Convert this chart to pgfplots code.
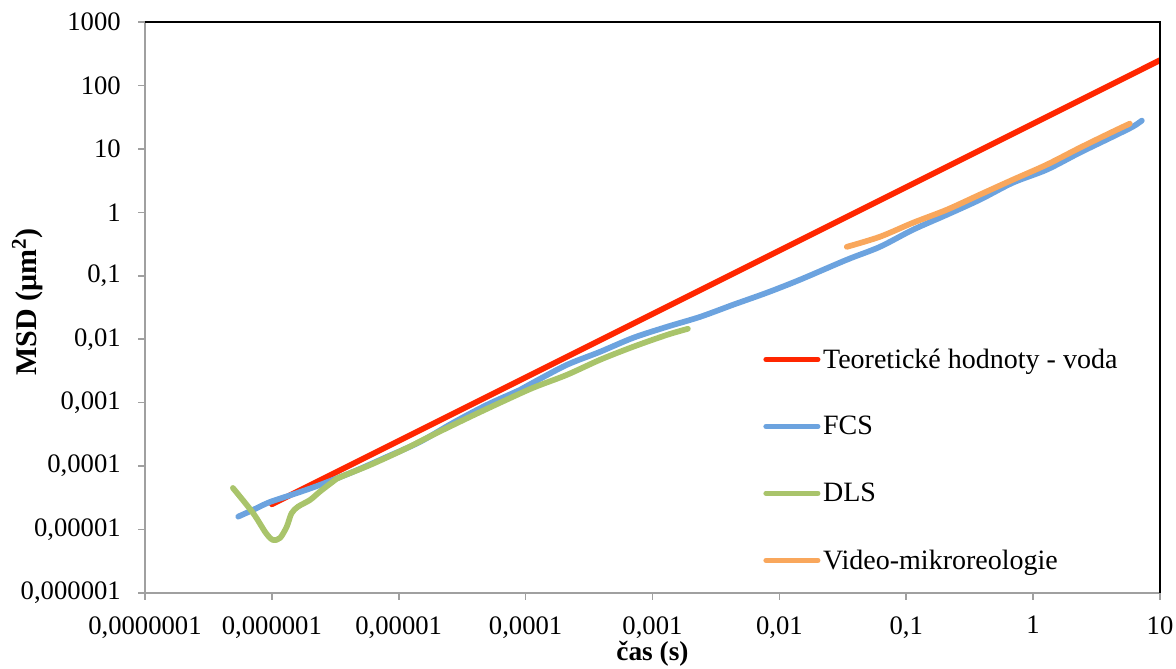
\documentclass[border=0pt]{standalone}
\usepackage{fontspec}
\setmainfont{Liberation Serif}
\usepackage{pgfplots}
\pgfplotsset{compat=1.18}
\definecolor{cred}{RGB}{255,38,0}
\definecolor{cblue}{RGB}{108,163,223}
\definecolor{cgreen}{RGB}{169,196,107}
\definecolor{corange}{RGB}{249,167,92}
\definecolor{axgray}{RGB}{160,160,160}
\begin{document}
\begin{tikzpicture}
\begin{axis}[
  name=ax,
  scale only axis, width=761.25pt, height=428.25pt,
  xmode=log, ymode=log,
  xmin=1e-7, xmax=10, ymin=1e-6, ymax=1000,
  xtick={1e-7,1e-6,1e-5,1e-4,1e-3,1e-2,1e-1,1,10},
  xticklabels={{0,0000001},{0,000001},{0,00001},{0,0001},{0,001},{0,01},{0,1},{1},{10}},
  ytick={1e-6,1e-5,1e-4,1e-3,1e-2,1e-1,1,10,100,1000},
  yticklabels={{0,000001},{0,00001},{0,0001},{0,001},{0,01},{0,1},{1},{10},{100},{1000}},
  xminorticks=false, yminorticks=false,
  axis x line*=bottom, axis y line*=left,
  axis line style={-, draw=axgray, line width=1.4pt},
  tick align=outside, major tick length=5.25pt,
  tick style={draw=axgray, line width=1.2pt},
  tick label style={font=\fontsize{20}{24}\selectfont, inner sep=0pt},
  xticklabel style={anchor=north, yshift=-12pt},
  yticklabel style={anchor=east, xshift=-12.75pt},
  xlabel={\textbf{čas (s)}},
  ylabel={\textbf{MSD (μm\textsuperscript{2})}},
  xlabel style={font=\fontsize{20.5}{24}\selectfont, inner sep=0pt, at={(axis description cs:0.5,-0.106)}, anchor=center},
  ylabel style={font=\fontsize{22.5}{27}\selectfont, at={(axis description cs:-0.116,0.51)}, anchor=center, rotate=0},
  legend style={draw=none, fill=none, at={(rel axis cs:0.609,0.433)}, anchor=north west,
    font=\fontsize{21}{25}\selectfont, row sep=30.6pt, inner sep=0pt,
    nodes={inner sep=2pt}},
  legend cell align=left,
  legend image code/.code={\draw[#1, line width=3.8pt, line cap=round] (0pt,0pt) -- (39pt,0pt);},
  every axis plot/.append style={line width=4.3pt, line join=round, line cap=round, mark=none},
  after end axis/.code={\draw[black, line width=1.3pt] (rel axis cs:0,1) -- (rel axis cs:1,1) -- (rel axis cs:1,0);},
]
\addplot[cred] coordinates {(1e-6,2.5e-5) (10,250)};
\addlegendentry{Teoretické hodnoty - voda}
\addplot[cblue, smooth] coordinates {
(5.43e-7,1.60e-5) (7.10e-7,2.04e-5) (9.66e-7,2.72e-5) (1.58e-6,3.77e-5)
(2.39e-6,5.05e-5) (4.36e-6,8.12e-5) (8.07e-6,1.40e-4) (1.47e-5,2.41e-4)
(2.67e-5,4.80e-4) (4.95e-5,9.23e-4) (9.02e-5,1.59e-3) (1.14e-4,2.06e-3)
(2.11e-4,3.94e-3) (3.85e-4,6.32e-3) (7.02e-4,1.05e-2) (1.30e-3,1.57e-2)
(2.37e-3,2.25e-2) (4.31e-3,3.49e-2) (7.96e-3,5.40e-2) (1.45e-2,8.65e-2)
(3.40e-2,0.179) (6.20e-2,0.286) (0.113,0.532) (0.209,0.916) (0.380,1.58)
(0.692,2.93) (1.28,4.70) (2.33,8.71) (4.25,15.6) (6.11,22.4) (7.19,27.9)};
\addlegendentry{FCS}
\addplot[cgreen, smooth] coordinates {
(4.93e-7,4.53e-5) (7.10e-7,1.83e-5) (8.97e-7,8.83e-6) (1.02e-6,6.86e-6)
(1.16e-6,7.38e-6) (1.31e-6,1.11e-5) (1.43e-6,1.81e-5) (1.61e-6,2.30e-5)
(2.00e-6,2.93e-5) (2.39e-6,3.96e-5) (3.03e-6,5.70e-5) (3.44e-6,6.68e-5)
(5.93e-6,1.04e-4) (1.08e-5,1.80e-4) (2.00e-5,3.34e-4) (3.64e-5,5.97e-4)
(6.26e-5,9.93e-4) (1.14e-4,1.71e-3) (2.11e-4,2.74e-3) (3.85e-4,4.73e-3)
(7.02e-4,7.59e-3) (1.30e-3,1.17e-2) (1.90e-3,1.46e-2)};
\addlegendentry{DLS}
\addplot[corange, smooth] coordinates {
(0.0340,0.286) (0.0620,0.412) (0.113,0.685) (0.209,1.10) (0.380,1.90)
(0.692,3.27) (1.28,5.64) (2.33,10.4) (4.25,18.7) (5.78,25.0)};
\addlegendentry{Video-mikroreologie}
\end{axis}
\pgfresetboundingbox
\path ([shift={(-108.75pt,-56.25pt)}]ax.south west) rectangle ([shift={(12pt,16.5pt)}]ax.north east);
\end{tikzpicture}
\end{document}
